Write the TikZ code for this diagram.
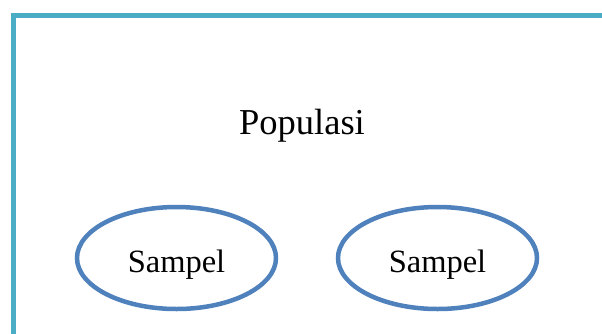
\documentclass[tikz,border=0pt]{standalone}
\usepackage{fontspec}
\setmainfont{Liberation Serif}
\usetikzlibrary{shapes.geometric}
\definecolor{frameaqua}{HTML}{4BACC6}
\definecolor{ellblue}{HTML}{4F81BD}
\tikzset{
  frameline/.style={draw=frameaqua, line width=5.5pt},
  sampbox/.style={ellipse, draw=ellblue, line width=4.5pt, minimum width=199pt, minimum height=102pt, inner sep=0pt, font=\fontsize{32.5}{38}\selectfont, text height=28pt, text depth=0pt},
  titletext/.style={font=\fontsize{36.5}{42}\selectfont, anchor=base, inner sep=0pt}
}
\begin{document}
\begin{tikzpicture}[x=1pt,y=-1pt]
\useasboundingbox (0,0) rectangle (602,333);
\clip (0,0) rectangle (602,333);
\fill[white] (0,0) rectangle (602,333);
\coordinate (fbl) at (13.5,345);
\coordinate (ftl) at (13.5,15.5);
\coordinate (ftr) at (615,15.5);
\draw[frameline] (fbl) -- (ftl) -- (ftr);
\node[titletext] (pop) at (302,134) {Populasi};
\node[sampbox] (s1) at (176.5,258) {Sampel};
\node[sampbox] (s2) at (437.5,258) {Sampel};
\end{tikzpicture}
\end{document}
